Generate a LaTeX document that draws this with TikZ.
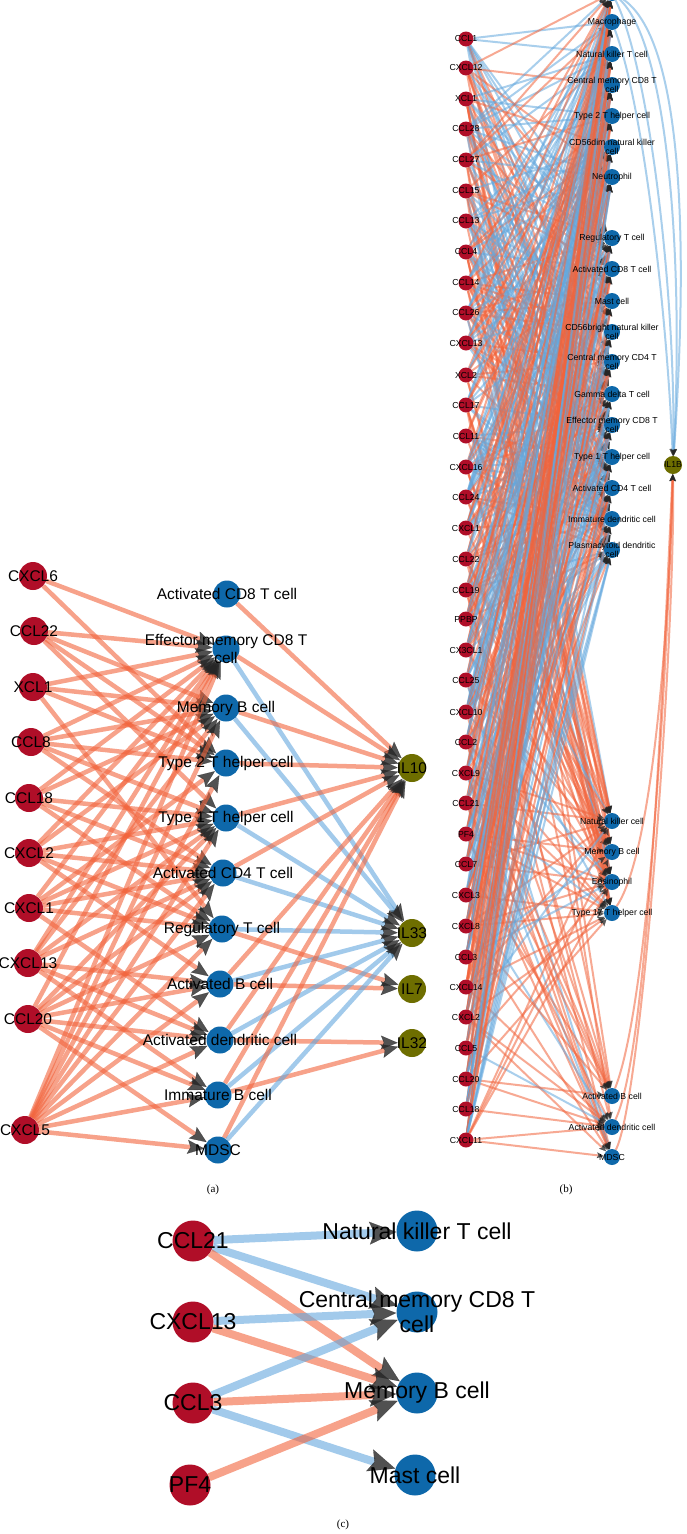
\documentclass[tikz,border=0pt]{standalone}
\usepackage{fontspec}
\setmainfont{Liberation Serif}
\newfontfamily\labfont{Liberation Sans}
\usetikzlibrary{arrows.meta}
\pgfdeclarelayer{bg}
\pgfdeclarelayer{edges}
\pgfdeclarelayer{labels}
\pgfsetlayers{bg,edges,main,labels}
\definecolor{redN}{RGB}{176,14,40}
\definecolor{blueN}{RGB}{14,104,170}
\definecolor{oliveN}{RGB}{110,110,0}
\definecolor{eO}{RGB}{242,100,60}
\definecolor{eB}{RGB}{100,168,222}
\newcount\rs \global\rs=4321
\newcount\rtmp
\def\nextrand{\global\multiply\rs by 75 \global\advance\rs by 74 \rtmp=\rs \divide\rtmp by 65537 \multiply\rtmp by 65537 \global\advance\rs by -\rtmp}
\tikzset{
  nd/.style={circle, inner sep=0pt, draw=none},
  rA/.style={nd, fill=redN, minimum size=28pt},
  bA/.style={nd, fill=blueN, minimum size=27pt},
  oA/.style={nd, fill=oliveN, minimum size=28pt},
  rB/.style={nd, fill=redN, minimum size=15pt},
  bB/.style={nd, fill=blueN, minimum size=16pt},
  oB/.style={nd, fill=oliveN, minimum size=18pt},
  rC/.style={nd, fill=redN, minimum size=41pt},
  bC/.style={nd, fill=blueN, minimum size=41pt},
  labA/.style={font=\labfont\fontsize{15.5}{18}\selectfont, align=center, inner sep=0pt},
  labB/.style={font=\labfont\fontsize{8.7}{9.5}\selectfont, align=center, inner sep=0pt},
  labC/.style={font=\labfont\fontsize{23}{25}\selectfont, align=center, inner sep=0pt},
  captxt/.style={font=\fontsize{11}{13}\selectfont, inner sep=0pt},
  oe/.style={draw=eO},
  be/.style={draw=eB},
  eAs/.style={line width=4.5pt, draw opacity=0.6, fill opacity=0.8,
    -{Stealth[length=17pt,width=14pt,inset=3pt,line width=0.3pt,color=black!85]}},
  eBs/.style={line width=2pt, draw opacity=0.55, fill opacity=0.75,
    -{Stealth[length=7pt,width=6pt,inset=1.5pt,line width=0.2pt,color=black!85]}},
  eCs/.style={line width=8pt, draw opacity=0.6, fill opacity=0.8,
    -{Stealth[length=27pt,width=23pt,inset=5pt,line width=0.3pt,color=black!85]}},
}
\begin{document}
\begin{tikzpicture}[x=1pt,y=-1pt]
\begin{pgfonlayer}{bg}
\fill[white] (0,0) rectangle (686,1534);
\end{pgfonlayer}
\useasboundingbox (0,0) rectangle (686,1534);

% ================= Panel (a) =================
\foreach \y/\xx/\t [count=\k] in {576/33/CXCL6, 631/34/CCL22, 687/33/XCL1, 742/31/CCL8, 798/29/CCL18, 853/29/CXCL2, 908/29/CXCL1, 963/28/CXCL13, 1019/28/CCL20, 1130/25/CXCL5}{
  \node[rA] (a\k) at (\xx,\y) {};
  \begin{pgfonlayer}{labels}\node[labA] (ta\k) at (a\k) {\t};\end{pgfonlayer}
}
\foreach \y/\xx/\t [count=\k] in {594/227/Activated CD8 T cell, 649/226/{Effector memory CD8 T\\cell}, 708/226/Memory B cell, 763/226/Type 2 T helper cell, 818/226/Type 1 T helper cell, 873/223/Activated CD4 T cell, 929/222/Regulatory T cell, 984/220/Activated B cell, 1040/220/Activated dendritic cell, 1095/218/Immature B cell, 1150/218/MDSC}{
  \node[bA] (m\k) at (\xx,\y) {};
  \begin{pgfonlayer}{labels}\node[labA] (tm\k) at (m\k) {\t};\end{pgfonlayer}
}
\foreach \y/\t [count=\k] in {768/IL10, 933/IL33, 989/IL7, 1043/IL32}{
  \node[oA] (r\k) at (412,\y) {};
  \begin{pgfonlayer}{labels}\node[labA] (tr\k) at (r\k) {\t};\end{pgfonlayer}
}
\begin{pgfonlayer}{edges}
\foreach \s/\tl in {1/{2,4}, 2/{2,3,4,5}, 3/{2,3,4,7}, 4/{2,3,4,5,6}, 5/{2,3,5,6,7}, 6/{2,3,5,6,7,8}, 7/{2,4,5,6,7,9}, 8/{2,3,5,6,8,9,10}, 9/{2,5,6,7,8,9,10,11}, 10/{2,3,4,5,6,7,8,9,10,11}}{
  \foreach \t in \tl {\draw[eAs,oe] (a\s) -- (m\t);}
}
\foreach \s/\t/\c in {1/1/oe, 2/1/oe, 2/2/be, 3/1/oe, 3/2/be, 4/1/oe, 5/1/oe, 5/2/be, 6/1/oe, 6/2/be, 7/2/be, 7/3/oe, 8/1/oe, 8/2/be, 8/3/oe, 9/1/oe, 9/2/be, 9/4/oe, 10/1/oe, 10/2/be, 10/4/oe, 11/1/oe, 11/2/be}{
  \draw[eAs,\c] (m\s) -- (r\t);
}
\end{pgfonlayer}
\node[captxt] (capa) at (213,1190) {(a)};

% ================= Panel (b) =================
\foreach \y/\t [count=\k] in {39/CCL1, 68/CXCL12, 99/XCL1, 129/CCL28, 160/CCL27, 191/CCL15, 221/CCL13, 252/CCL4, 283/CCL14, 313/CCL26, 343/CXCL13, 375/XCL2, 405/CCL17, 436/CCL11, 467/CXCL16, 497/CCL24, 528/CXCL1, 559/CCL22, 590/CCL19, 619/PPBP, 650/CX3CL1, 680/CCL25, 712/CXCL10, 742/CCL2, 773/CXCL9, 803/CCL21, 834/PF4, 864/CCL7, 895/CXCL3, 926/CXCL8, 957/CCL3, 987/CXCL14, 1017/CXCL2, 1048/CCL5, 1079/CCL20, 1109/CCL18, 1140/CXCL11}{
  \node[rB] (BL\k) at (466,\y) {};
  \begin{pgfonlayer}{labels}\node[labB] (tBL\k) at (BL\k) {\t};\end{pgfonlayer}
}
\foreach \y/\t [count=\k] in {-7/{}, 22/Macrophage, 54/Natural killer T cell, 85/{Central memory CD8 T\\cell}, 116/Type 2 T helper cell, 147/{CD56dim natural killer\\cell}, 177/Neutrophil, 238/Regulatory T cell, 269/Activated CD8 T cell, 301/Mast cell, 332/{CD56bright natural killer\\cell}, 362/{Central memory CD4 T\\cell}, 394/Gamma delta T cell, 425/{Effector memory CD8 T\\cell}, 457/Type 1 T helper cell, 488/Activated CD4 T cell, 519/Immature dendritic cell, 550/{Plasmacytoid dendritic\\cell}, 821/Natural killer cell, 852/Memory B cell, 882/Eosinophil, 913/Type 17 T helper cell, 1096/Activated B cell, 1127/Activated dendritic cell, 1157/MDSC}{
  \node[bB] (B\k) at (612,\y) {};
  \begin{pgfonlayer}{labels}\node[labB] (tB\k) at (B\k) {\t};\end{pgfonlayer}
}
\node[oB] (IL) at (673,465) {};
\begin{pgfonlayer}{labels}\node[labB] (tIL) at (IL) {IL1B};\end{pgfonlayer}
\begin{pgfonlayer}{edges}
\foreach \i in {1,...,37}{
  \foreach \j in {1,...,25}{
    \nextrand\edef\h{\the\numexpr\rs*100/65537\relax}%
    \nextrand\edef\hh{\the\numexpr\rs*100/65537\relax}%
    \ifnum\j<19 \def\thr{60}\def\bp{50}\else
      \ifnum\j<23 \def\thr{50}\def\bp{14}\else
        \ifnum\i<18 \def\thr{4}\else\def\thr{45}\fi\def\bp{10}\fi\fi
    \ifnum\h<\thr\relax
      \ifnum\hh<\bp\relax\def\ec{be}\else\def\ec{oe}\fi
      \draw[eBs,\ec] (BL\i) -- (B\j);
    \fi
  }
}
\draw[eBs,be] (B1) .. controls (668,40) and (684,260) .. (IL);
\draw[eBs,be] (B1) .. controls (650,70) and (676,300) .. (IL);
\draw[eBs,be] (B1) .. controls (680,30) and (690,220) .. (IL);
\draw[eBs,be] (B2) .. controls (645,110) and (668,330) .. (IL);
\draw[eBs,oe] (B24) .. controls (648,1050) and (662,700) .. (IL);
\draw[eBs,oe] (B23) .. controls (650,1000) and (668,650) .. (IL);
\draw[eBs,oe] (B25) .. controls (642,1100) and (675,640) .. (IL);
\draw[eBs,oe] (B22) .. controls (655,850) and (670,600) .. (IL);
\end{pgfonlayer}
\node[captxt] (capb) at (566,1190) {(b)};

% ================= Panel (c) =================
\foreach \y/\xx/\t [count=\k] in {1241/193/CCL21, 1322/193/CXCL13, 1403/193/CCL3, 1485/190/PF4}{
  \node[rC] (c\k) at (\xx,\y) {};
  \begin{pgfonlayer}{labels}\node[labC] (tc\k) at (c\k) {\t};\end{pgfonlayer}
}
\foreach \y/\xx/\t [count=\k] in {1231/417/Natural killer T cell, 1312/417/{Central memory CD8 T\\cell}, 1393/417/Memory B cell, 1475/415/Mast cell}{
  \node[bC] (d\k) at (\xx,\y) {};
  \begin{pgfonlayer}{labels}\node[labC] (td\k) at (d\k) {\t};\end{pgfonlayer}
}
\begin{pgfonlayer}{edges}
\foreach \s/\t/\c in {1/1/be, 1/2/be, 1/3/oe, 2/2/be, 2/3/oe, 3/2/be, 3/3/oe, 3/4/be, 4/3/oe}{
  \draw[eCs,\c] (c\s) -- (d\t);
}
\end{pgfonlayer}
\node[captxt] (capc) at (343,1525) {(c)};
\end{tikzpicture}
\end{document}
